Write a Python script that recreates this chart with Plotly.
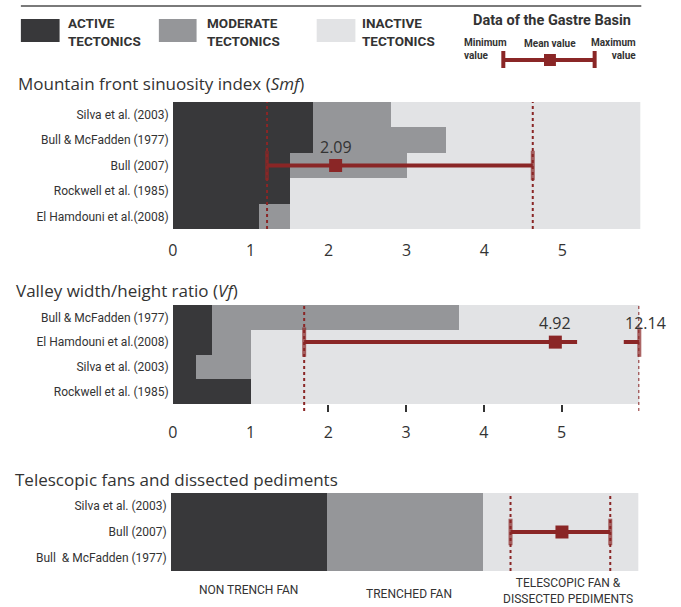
import plotly.graph_objects as go

# ---------------- DATA ----------------
CLASS_NAMES = ["Active tectonics", "Moderate tectonics", "Inactive tectonics"]

# Mountain front sinuosity index (Smf)
SMF_STUDIES = ["Silva et al. (2003)", "Bull & McFadden (1977)", "Bull (2007)",
               "Rockwell et al. (1985)", "El Hamdouni et al.(2008)"]
SMF_ACTIVE_MAX = [1.8, 1.8, 1.5, 1.5, 1.1]
SMF_MODERATE_MAX = [2.8, 3.5, 3.0, 1.5, 1.5]
SMF_AXIS_MAX = 6
SMF_TICKS = [0, 1, 2, 3, 4, 5]
SMF_MIN, SMF_MEAN, SMF_MAX = 1.21, 2.09, 4.62
SMF_ROW = "Bull (2007)"

# Valley width/height ratio (Vf)
VF_STUDIES = ["Bull & McFadden (1977)", "El Hamdouni et al.(2008)",
              "Silva et al. (2003)", "Rockwell et al. (1985)"]
VF_ACTIVE_MAX = [0.5, 0.5, 0.3, 1.0]
VF_MODERATE_MAX = [3.68, 1.0, 1.0, 1.0]
VF_AXIS_MAX = 6
VF_TICKS = [0, 1, 2, 3, 4, 5]
VF_MIN, VF_MEAN, VF_MAX = 1.69, 4.92, 12.14
VF_BREAK = [5.2, 5.8]          # axis break drawn in the error bar
VF_ROW = "El Hamdouni et al.(2008)"

# Telescopic fans and dissected pediments
FAN_STUDIES = ["Silva et al. (2003)", "Bull (2007)", "Bull  & McFadden (1977)"]
FAN_CLASSES = ["NON TRENCH FAN", "TRENCHED FAN", "TELESCOPIC FAN &<br>DISSECTED PEDIMENTS"]
FAN_CLASS_WIDTH = [1, 1, 1]
FAN_MIN, FAN_MEAN, FAN_MAX = 2.18, 2.51, 2.82
FAN_ROW = "Bull (2007)"

# ---------------- STYLE ----------------
W, H = 681, 607
C_ACTIVE = "#38383a"
C_MOD = "#959699"
C_INACT = "#e2e3e5"
C_RED = "#8a2626"
C_TEXT = "#333333"
F_MAIN = "Open Sans"
F_NARROW = "Roboto"
COLORS = [C_ACTIVE, C_MOD, C_INACT]


def px(x):
    return x / W


def py(y):
    return 1 - y / H


fig = go.Figure()


def add_bars(studies, act, mod, axmax, xa, ya):
    segs = [
        act,
        [m - a for a, m in zip(act, mod)],
        [axmax - m for m in mod],
    ]
    for name, col, seg in zip(CLASS_NAMES, COLORS, segs):
        fig.add_trace(go.Bar(
            y=studies, x=seg, orientation="h", name=name,
            marker=dict(color=col, line=dict(width=0)),
            width=1, xaxis=xa, yaxis=ya, showlegend=False, hoverinfo="skip"))


def add_errbar(xs, row, caps, xa, ya, cap_size=21):
    fig.add_trace(go.Scatter(
        x=xs, y=[row] * len(xs), mode="lines+markers",
        line=dict(color=C_RED, width=4),
        marker=dict(symbol="line-ns", size=[cap_size if c else 0 for c in caps],
                    line=dict(color=C_RED, width=4)),
        xaxis=xa, yaxis=ya, showlegend=False, hoverinfo="skip", cliponaxis=False))


def add_mean(x, row, xa, ya):
    fig.add_trace(go.Scatter(
        x=[x], y=[row], mode="markers",
        marker=dict(symbol="square", size=13, color=C_RED),
        xaxis=xa, yaxis=ya, showlegend=False, hoverinfo="skip", cliponaxis=False))


# Panel 1
add_bars(SMF_STUDIES, SMF_ACTIVE_MAX, SMF_MODERATE_MAX, SMF_AXIS_MAX, "x", "y")
add_errbar([SMF_MIN, SMF_MAX], SMF_ROW, [True, True], "x", "y")
add_mean(SMF_MEAN, SMF_ROW, "x", "y")

# Panel 2
add_bars(VF_STUDIES, VF_ACTIVE_MAX, VF_MODERATE_MAX, VF_AXIS_MAX, "x2", "y2")
add_errbar([VF_MIN, VF_BREAK[0]], VF_ROW, [True, False], "x2", "y2")
add_errbar([VF_BREAK[1], VF_AXIS_MAX], VF_ROW, [False, True], "x2", "y2")
add_mean(VF_MEAN, VF_ROW, "x2", "y2")

# Panel 3
for i, (col, w) in enumerate(zip(COLORS, FAN_CLASS_WIDTH)):
    fig.add_trace(go.Bar(
        y=FAN_STUDIES, x=[w] * len(FAN_STUDIES), orientation="h",
        marker=dict(color=col, line=dict(width=0)), width=1,
        xaxis="x3", yaxis="y3", showlegend=False, hoverinfo="skip"))
add_errbar([FAN_MIN, FAN_MAX], FAN_ROW, [True, True], "x3", "y3", cap_size=19)
add_mean(FAN_MEAN, FAN_ROW, "x3", "y3")

# ---------------- SHAPES ----------------
shapes = []
dot = dict(color=C_RED, width=2, dash="dot")
for xv in [SMF_MIN, SMF_MAX]:
    shapes.append(dict(type="line", xref="x", yref="y domain", x0=xv, x1=xv, y0=0, y1=1, line=dot))
for xv in [VF_MIN, VF_AXIS_MAX]:
    shapes.append(dict(type="line", xref="x2", yref="y2 domain", x0=xv, x1=xv, y0=-0.07, y1=1, line=dot))
for xv in [FAN_MIN, FAN_MAX]:
    shapes.append(dict(type="line", xref="x3", yref="y3 domain", x0=xv, x1=xv, y0=0, y1=1, line=dot))

# top rule
shapes.append(dict(type="line", xref="paper", yref="paper", x0=px(16), x1=px(641),
                   y0=py(6), y1=py(6), line=dict(color="#7a7a7a", width=2)))
# legend swatches
for (x0, x1), col in zip([(16, 55), (155, 193), (314, 353)], COLORS):
    shapes.append(dict(type="rect", xref="paper", yref="paper", x0=px(x0), x1=px(x1),
                       y0=py(42), y1=py(19), fillcolor=col, line=dict(width=0)))
# legend error bar
shapes.append(dict(type="line", xref="paper", yref="paper", x0=px(502), x1=px(594),
                   y0=py(60), y1=py(60), line=dict(color=C_RED, width=4)))
for xc in [502, 594]:
    shapes.append(dict(type="line", xref="paper", yref="paper", x0=px(xc), x1=px(xc),
                       y0=py(51), y1=py(68), line=dict(color=C_RED, width=4)))
shapes.append(dict(type="rect", xref="paper", yref="paper", x0=px(543), x1=px(555),
                   y0=py(66), y1=py(54), fillcolor=C_RED, line=dict(width=0)))

# ---------------- ANNOTATIONS ----------------
ann = []


def label(text, x, y, size, xanchor="left", bold=False, family=F_MAIN, align="left"):
    ann.append(dict(text=f"<b>{text}</b>" if bold else text, x=px(x), y=py(y),
                    xref="paper", yref="paper", xanchor=xanchor, yanchor="middle",
                    showarrow=False, align=align,
                    font=dict(family=family, size=size, color=C_TEXT)))


label("ACTIVE<br>TECTONICS", 61, 32, 13.5, bold=True, family=F_NARROW)
label("MODERATE<br>TECTONICS", 201, 32, 13.5, bold=True, family=F_NARROW)
label("INACTIVE<br>TECTONICS", 358, 32, 13.5, bold=True, family=F_NARROW)
label("Data of the Gastre Basin", 551, 21, 14.5, xanchor="center", bold=True, family=F_NARROW)
label("Minimum<br>value", 460, 49, 10, bold=True, family=F_NARROW)
label("Mean value", 549, 43, 10, xanchor="center", bold=True, family=F_NARROW)
label("Maximum<br>value", 638, 49, 10, xanchor="right", bold=True, family=F_NARROW, align="right")

label("Mountain front sinuosity index (<i>Smf</i>)", 11, 83, 17)
label("Valley width/height ratio (<i>Vf</i>)", 9, 290, 17)
label("Telescopic fans and dissected pediments", 8, 479, 17)

# value labels
for xv, row, xa, ya, txt in [(SMF_MEAN, SMF_ROW, "x", "y", f"{SMF_MEAN:.2f}"),
                             (VF_MEAN, VF_ROW, "x2", "y2", f"{VF_MEAN:.2f}"),
                             (VF_AXIS_MAX, VF_ROW, "x2", "y2", f"{VF_MAX:.2f}")]:
    ann.append(dict(text=txt, x=xv, y=row, xref=xa, yref=ya, showarrow=False,
                    yshift=19, xshift=6 if xv == VF_AXIS_MAX else 0,
                    font=dict(family=F_MAIN, size=16, color=C_TEXT)))

# fan class labels
for i, (txt, w) in enumerate(zip(FAN_CLASSES, FAN_CLASS_WIDTH)):
    start = sum(FAN_CLASS_WIDTH[:i])
    ann.append(dict(text=txt, x=start + w / 2, y=py([590, 594, 591][i]), xref="x3", yref="paper",
                    yanchor="middle", xanchor="center",
                    xshift=[0, 4, 8][i], showarrow=False, align="center",
                    font=dict(family=F_NARROW, size=12, color=C_TEXT)))

# ---------------- LAYOUT ----------------
common_x = dict(showgrid=False, zeroline=False, showline=False, fixedrange=True,
                tickfont=dict(family=F_MAIN, size=16, color=C_TEXT))
common_y = dict(showgrid=False, zeroline=False, showline=False, type="category",
                autorange="reversed", ticks="", ticklabelstandoff=3,
                tickfont=dict(family=F_NARROW, size=12, color=C_TEXT))

fig.update_layout(
    width=W, height=H, margin=dict(l=0, r=0, t=0, b=0),
    paper_bgcolor="white", plot_bgcolor="white",
    barmode="stack", bargap=0, showlegend=False,
    xaxis=dict(domain=[px(169), px(640)], range=[0, SMF_AXIS_MAX], tickvals=SMF_TICKS,
               ticks="", ticklabelstandoff=10, anchor="y", **common_x),
    yaxis=dict(domain=[py(229), py(102)], anchor="x", **common_y),
    xaxis2=dict(domain=[px(169), px(639)], range=[0, VF_AXIS_MAX], tickvals=VF_TICKS,
                ticks="", ticklabelstandoff=17, anchor="y2",
                minor=dict(tickvals=VF_TICKS[2:], ticks="outside", ticklen=7,
                           tickcolor=C_TEXT, tickwidth=1.5), **common_x),
    yaxis2=dict(domain=[py(404), py(305)], anchor="x2", **common_y),
    xaxis3=dict(domain=[px(167), px(638)], range=[0, sum(FAN_CLASS_WIDTH)],
                showticklabels=False, ticks="", anchor="y3", **common_x),
    yaxis3=dict(domain=[py(571), py(493)], anchor="x3", **common_y),
    shapes=shapes, annotations=ann,
)

fig.write_html("out.html", config={"displayModeBar": False},
               post_script="document.body.style.margin='0';document.body.style.overflow='hidden';")
